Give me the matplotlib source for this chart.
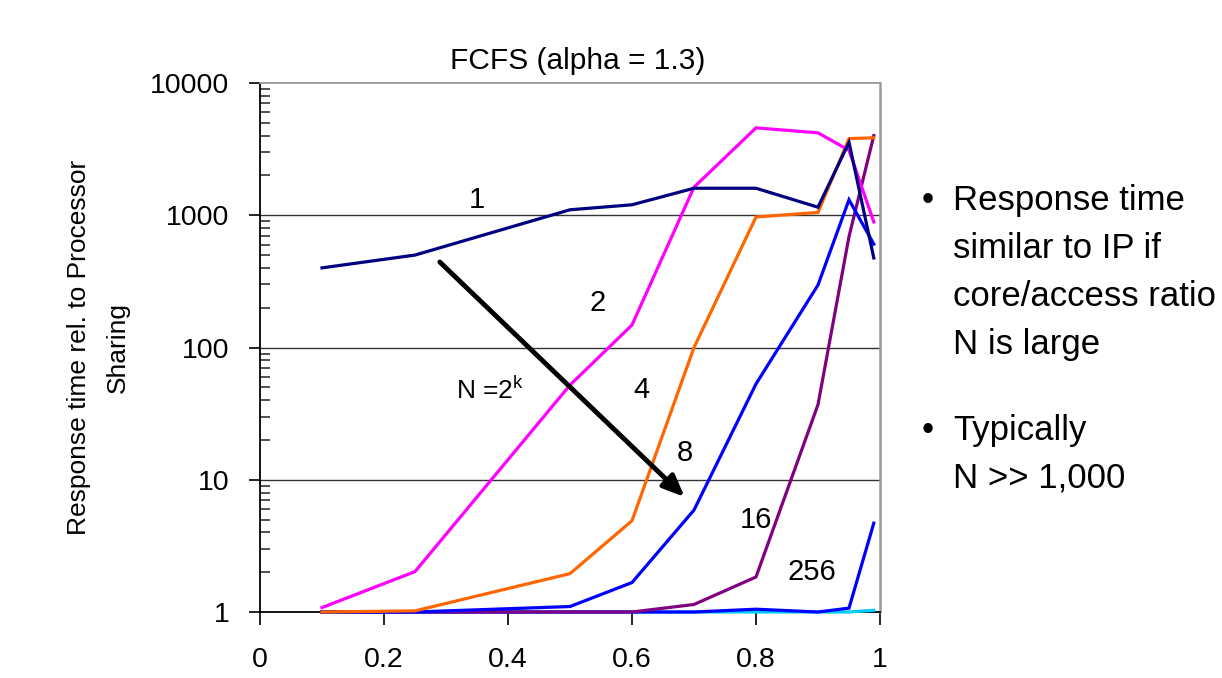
import matplotlib
matplotlib.use("Agg")
import matplotlib.pyplot as plt
from matplotlib.ticker import LogLocator, NullFormatter, FixedLocator

plt.rcParams['font.family'] = ['Liberation Sans', 'DejaVu Sans']
plt.rcParams['mathtext.fontset'] = 'custom'
plt.rcParams['mathtext.rm'] = 'Liberation Sans'
plt.rcParams['mathtext.it'] = 'Liberation Sans'

# ---- data ----
load = [0.1, 0.25, 0.5, 0.6, 0.7, 0.8, 0.9, 0.95, 0.99]
n1 = [400, 500, 1100, 1200, 1600, 1600, 1150, 3560, 475]
n2 = [1.08, 2.02, 52, 148, 1630, 4580, 4200, 3100, 890]
n4 = [1.0, 1.02, 1.95, 4.9, 100, 970, 1050, 3800, 3850]
n8 = [1.0, 1.0, 1.1, 1.67, 5.9, 53, 297, 1310, 605]
n16 = [1.0, 1.0, 1.0, 1.0, 1.14, 1.84, 37, 690, 4000]
n256 = [1.0, 1.0, 1.0, 1.0, 1.0, 1.05, 1.0, 1.07, 4.7]
nbig = [1.0, 1.0, 1.0, 1.0, 1.0, 1.0, 1.0, 1.0, 1.03]

series = [
    (nbig, '#00CCFF'),
    (n256, '#0000FF'),
    (n16, '#800080'),
    (n8, '#0000FF'),
    (n4, '#FF6600'),
    (n2, '#FF00FF'),
    (n1, '#000080'),
]

labels = [("1", 0.35, 1300), ("2", 0.544, 217), ("4", 0.616, 47.7),
          ("8", 0.685, 15.9), ("16", 0.80, 4.97), ("256", 0.89, 2.0)]

xticks = [0, 0.2, 0.4, 0.6, 0.8, 1]
xticklabels = ["0", "0.2", "0.4", "0.6", "0.8", "1"]
yticks = [1, 10, 100, 1000, 10000]
yticklabels = ["1", "10", "100", "1000", "10000"]

W, H = 1222, 678
fig = plt.figure(figsize=(W / 100, H / 100), dpi=100)
ax = fig.add_axes([260 / W, 1 - 612 / H, 620 / W, (612 - 83) / H])

for vals, col in series:
    ax.plot(load, vals, color=col, lw=2.3, solid_joinstyle='miter', clip_on=False, zorder=3)

ax.set_yscale('log')
ax.set_xlim(0, 1)
ax.set_ylim(1, 10000)

ax.yaxis.set_major_locator(FixedLocator(yticks))
ax.set_yticklabels(yticklabels)
ax.yaxis.set_minor_locator(LogLocator(base=10, subs=range(2, 10)))
ax.yaxis.set_minor_formatter(NullFormatter())
ax.set_xticks(xticks)
ax.set_xticklabels(xticklabels)

ax.tick_params(axis='y', which='major', direction='out', length=8, width=1.2,
               labelsize=20.5, pad=14, color='black')
ax.tick_params(axis='y', which='minor', direction='in', length=7, width=1.2, color='#333333')
ax.tick_params(axis='x', which='major', direction='out', length=9, width=1.2,
               labelsize=20.5, pad=16, color='black')

for yv in [10, 100, 1000]:
    ax.axhline(yv, color='#333333', lw=1.0, zorder=1)

ax.spines['left'].set_color('black')
ax.spines['left'].set_linewidth(1.3)
ax.spines['bottom'].set_color('black')
ax.spines['bottom'].set_linewidth(1.3)
ax.spines['top'].set_color('#999999')
ax.spines['top'].set_linewidth(1.3)
ax.spines['right'].set_color('#999999')
ax.spines['right'].set_linewidth(1.8)

ax.set_title("FCFS (alpha = 1.3)", fontsize=21.5, pad=10, x=0.512)
fig.text(98.5 / W, 1 - 347 / H, "Response time rel. to Processor\nSharing",
         fontsize=19, rotation=90, ha='center', va='center',
         multialignment='center', linespacing=1.75)

for txt, xv, yv in labels:
    ax.text(xv, yv, txt, fontsize=21, ha='center', va='center', zorder=5)
ax.text(0.371, 47.7, r"N =2$^{\mathrm{k}}$", fontsize=19, ha='center', va='center', zorder=5)

ax.annotate("", xy=(0.685, 7.4), xytext=(0.29, 443),
            arrowprops=dict(arrowstyle='-|>,head_length=1.3,head_width=0.55',
                            color='black', lw=3.5, shrinkA=0, shrinkB=0),
            zorder=6)

# right-side bullet text
bullets = [(["Response time", "similar to IP if", "core/access ratio", "N is large"], 210),
           (["Typically", "N >> 1,000"], 440)]
for lines, base in bullets:
    fig.text(928 / W, 1 - base / H, "\u2022", fontsize=25, ha='center', va='baseline')
    for i, ln in enumerate(lines):
        fig.text(953 / W, 1 - (base + 48 * i) / H, ln, fontsize=25, ha='left', va='baseline')

fig.savefig("out.png", dpi=100)
